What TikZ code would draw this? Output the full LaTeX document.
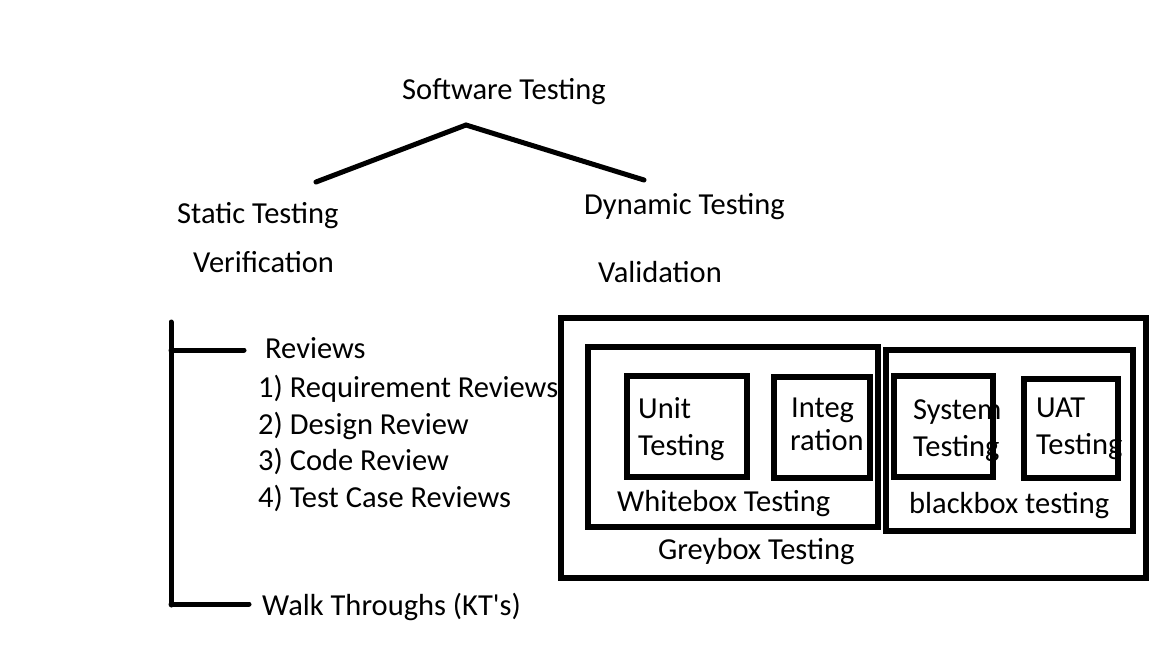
\documentclass[tikz,border=0pt]{standalone}
\usepackage{fontspec}
\setmainfont{Carlito}
\begin{document}
\begin{tikzpicture}[x=1pt,y=-1pt,
  lbl/.style={font=\fontsize{30.5}{34}\selectfont, inner sep=0pt, anchor=base west},
  boxnode/.style={draw, line width=5.5pt, anchor=north west, inner sep=0pt, outer sep=0pt},
  stroke/.style={line width=5pt, line cap=round}]
\useasboundingbox[fill=white] (0,0) rectangle (1152,648);
% tree
\node[lbl] (sw) at (402,99) {Software Testing};
\node[lbl] (st) at (177,223) {Static Testing};
\node[lbl] (ver) at (193,272) {Verification};
\node[lbl] (dt) at (584,214) {Dynamic Testing};
\node[lbl] (val) at (598,282) {Validation};
\coordinate (apex) at (466,125);
\coordinate (lend) at (316,182);
\coordinate (rend) at (644,180);
\draw[stroke] (lend) -- (apex) -- (rend);
% static side
\coordinate (vtop) at (171,322);
\coordinate (vbot) at (171,605);
\coordinate (b1) at (171,350);
\coordinate (b1e) at (244,350);
\coordinate (b2) at (171,604);
\coordinate (b2e) at (249,604);
\draw[stroke] (vtop) -- (vbot);
\draw[stroke] (b1) -- (b1e);
\draw[stroke] (b2) -- (b2e);
\node[lbl] (rev) at (265,358) {Reviews};
\node[lbl] (r1) at (258,397) {1) Requirement Reviews};
\node[lbl] (r2) at (258,434) {2) Design Review};
\node[lbl] (r3) at (258,470) {3) Code Review};
\node[lbl] (r4) at (258,507) {4) Test Case Reviews};
\node[lbl] (wt) at (262,615) {Walk Throughs (KT\textquotesingle s)};
% dynamic side boxes
\node[boxnode, minimum width=585, minimum height=260] (grey) at (561,318) {};
\node[boxnode, minimum width=290, minimum height=180] (white) at (588,347) {};
\node[boxnode, minimum width=247, minimum height=181] (black) at (886,350) {};
\node[boxnode, minimum width=120, minimum height=101] (unit) at (627,376) {};
\node[boxnode, minimum width=96, minimum height=101] (integ) at (774,377) {};
\node[boxnode, minimum width=99, minimum height=101] (sys) at (894,376) {};
\node[boxnode, minimum width=94, minimum height=99] (uat) at (1024,379) {};
% box texts
\node[lbl] (unit1) at (638,418) {Unit};
\node[lbl] (unit2) at (638,455) {Testing};
\node[lbl] (int1) at (791,417) {Integ};
\node[lbl] (int2) at (790,450) {ration};
\node[lbl] (sys1) at (913,419) {System};
\node[lbl] (sys2) at (913,456) {Testing};
\node[lbl] (uat1) at (1036,417) {UAT};
\node[lbl] (uat2) at (1036,454) {Testing};
\node[lbl] (wbt) at (617,511) {Whitebox Testing};
\node[lbl] (bbt) at (909,513) {blackbox testing};
\node[lbl] (gbt) at (658,559) {Greybox Testing};
\end{tikzpicture}
\end{document}
